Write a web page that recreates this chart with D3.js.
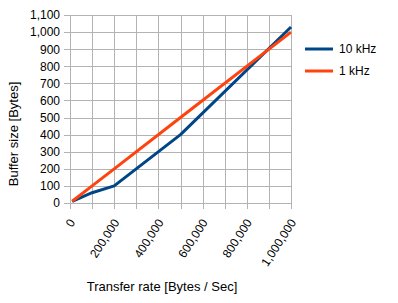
<!DOCTYPE html>
<html>
<head>
<meta charset="utf-8">
<script src="https://cdn.jsdelivr.net/npm/d3@7"></script>
<style>
  body { margin: 0; background: #fff; }
  svg text { font-family: "Liberation Sans", Arial, sans-serif; font-size: 12px; fill: #000; }
  svg text.title { font-size: 13px; }
</style>
</head>
<body>
<div id="chart"></div>
<script>
const rates = [10000, 100000, 200000, 500000, 1000000];
const buf10k = [10, 60, 100, 400, 1030];
const buf1k = [10, 100, 200, 500, 1000];
const seriesNames = ["10 kHz", "1 kHz"];
const seriesColors = ["#004586", "#ff420e"];
const xTicks = d3.range(0, 1000001, 100000);
const xLabels = [0, 200000, 400000, 600000, 800000, 1000000];
const yTicks = d3.range(0, 1101, 100);

const W = 398, H = 303;
const plot = { left: 70, right: 291, top: 15, bottom: 203 };

const svg = d3.select("#chart").append("svg")
    .attr("width", W)
    .attr("height", H);

const x = d3.scaleLinear().domain([0, 1000000]).range([plot.left, plot.right]);
const y = d3.scaleLinear().domain([0, 1100]).range([plot.bottom, plot.top]);
const fmt = d3.format(",");

// grid + outward ticks
const grid = svg.append("g").attr("stroke", "#b3b3b3").attr("stroke-width", 1);
grid.selectAll(".vx").data(xTicks).join("line")
    .attr("x1", d => Math.round(x(d)) + 0.5).attr("x2", d => Math.round(x(d)) + 0.5)
    .attr("y1", plot.top).attr("y2", plot.bottom + 6);
grid.selectAll(".hy").data(yTicks).join("line")
    .attr("y1", d => Math.round(y(d)) + 0.5).attr("y2", d => Math.round(y(d)) + 0.5)
    .attr("x1", plot.left - 6).attr("x2", plot.right);

// y tick labels
svg.append("g").selectAll("text").data(yTicks).join("text")
    .attr("x", plot.left - 10)
    .attr("y", d => y(d))
    .attr("dy", "0.36em")
    .attr("text-anchor", "end")
    .text(d => fmt(d));

// x tick labels, rotated
svg.append("g").selectAll("text").data(xLabels).join("text")
    .attr("text-anchor", "end")
    .attr("transform", d => `translate(${x(d) + 2},${plot.bottom + 17}) rotate(-57)`)
    .attr("dy", "0.36em")
    .text(d => fmt(d));

// axis titles
svg.append("text")
    .attr("class", "title")
    .attr("transform", `translate(18,134) rotate(-90)`)
    .attr("text-anchor", "middle")
    .text("Buffer size [Bytes]");
svg.append("text")
    .attr("class", "title")
    .attr("x", 162).attr("y", 291)
    .attr("text-anchor", "middle")
    .text("Transfer rate [Bytes / Sec]");

// lines
const line = d3.line().x(d => x(d[0])).y(d => y(d[1]));
[buf10k, buf1k].forEach((vals, i) => {
    svg.append("path")
        .datum(rates.map((r, j) => [r, vals[j]]))
        .attr("fill", "none")
        .attr("stroke", seriesColors[i])
        .attr("stroke-width", 3)
        .attr("stroke-linejoin", "round")
        .attr("d", line);
});

// legend
const legend = svg.append("g").selectAll("g").data(seriesNames).join("g")
    .attr("transform", (d, i) => `translate(305,${49 + i * 22})`);
legend.append("line")
    .attr("x1", 0).attr("x2", 28)
    .attr("stroke", (d, i) => seriesColors[i])
    .attr("stroke-width", 3);
legend.append("text")
    .attr("x", 34).attr("dy", "0.36em")
    .text(d => d);
</script>
</body>
</html>
